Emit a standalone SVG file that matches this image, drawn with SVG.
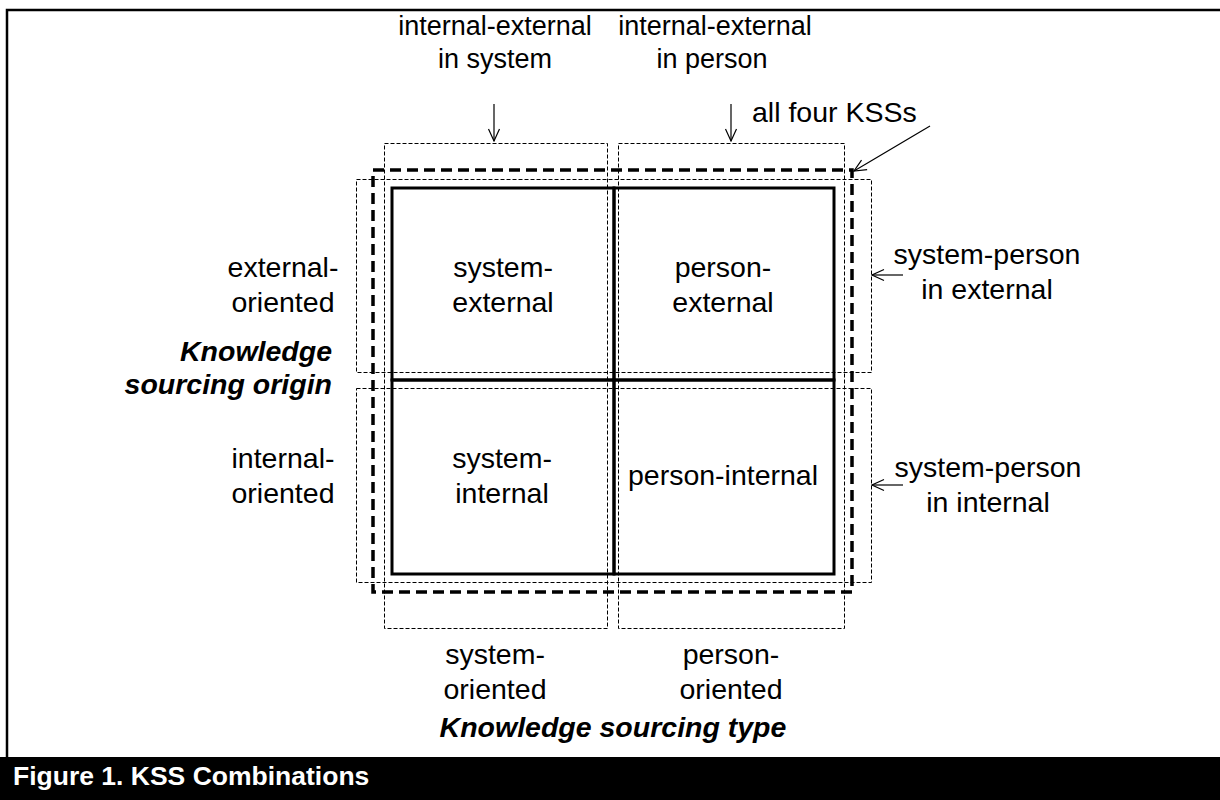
<svg xmlns="http://www.w3.org/2000/svg" width="1220" height="800" viewBox="0 0 1220 800">
  <style>
    text { font-family: "Liberation Sans", Arial, sans-serif; font-size: 28.5px; fill: #000; }
    .c { text-anchor: middle; }
    .top { font-size: 27px; }
    .axis { font-weight: bold; font-style: italic; }
    .cap { font-weight: bold; font-size: 26.5px; fill: #fff; }
    .cell { fill: none; stroke: #000; stroke-width: 3; }
    .thin { fill: none; stroke: #000; stroke-width: 1; stroke-dasharray: 4 2; }
    .all { fill: none; stroke: #000; stroke-width: 3.5; stroke-dasharray: 11 6; }
    .conn line { stroke: #000; stroke-width: 1.2; marker-end: url(#open); }
  </style>
  <defs>
    <marker id="open" viewBox="0 0 14 14" refX="13" refY="7" markerWidth="14" markerHeight="14" markerUnits="userSpaceOnUse" orient="auto">
      <path d="M1,1.5 L13,7 L1,12.5" fill="none" stroke="#000" stroke-width="1.2"/>
    </marker>
  </defs>

  <!-- page frame and caption bar -->
  <rect x="0" y="0" width="1220" height="800" fill="#fff"/>
  <path d="M7,757 V10 H1220" fill="none" stroke="#000" stroke-width="2.5"/>
  <rect x="0" y="757" width="1220" height="43" fill="#000"/>
  <text class="cap" x="13" y="785">Figure 1. KSS Combinations</text>

  <!-- combination groupings -->
  <g id="col-system">
    <rect class="thin" x="384.5" y="143.5" width="223" height="485"/>
    <text class="c top" x="495" y="35">internal-external</text>
    <text class="c top" x="495" y="68">in system</text>
    <text class="c" x="495" y="664">system-</text>
    <text class="c" x="495" y="699">oriented</text>
  </g>
  <g id="col-person">
    <rect class="thin" x="618.5" y="143.5" width="226" height="485"/>
    <text class="c top" x="715" y="35">internal-external</text>
    <text class="c top" x="712" y="68">in person</text>
    <text class="c" x="731" y="664">person-</text>
    <text class="c" x="731" y="699">oriented</text>
  </g>
  <g id="row-external">
    <rect class="thin" x="356.5" y="179.5" width="515" height="193"/>
    <text class="c" x="283" y="277">external-</text>
    <text class="c" x="283" y="312">oriented</text>
    <text class="c" x="987" y="264">system-person</text>
    <text class="c" x="987" y="299">in external</text>
  </g>
  <g id="row-internal">
    <rect class="thin" x="356.5" y="388.5" width="515" height="194"/>
    <text class="c" x="283" y="468">internal-</text>
    <text class="c" x="283" y="503">oriented</text>
    <text class="c" x="988" y="477">system-person</text>
    <text class="c" x="988" y="512">in internal</text>
  </g>
  <g id="all-four">
    <rect class="all" x="373" y="170" width="479" height="422"/>
    <text x="752" y="122">all four KSSs</text>
  </g>

  <!-- the four knowledge sourcing strategies -->
  <g id="system-external">
    <rect class="cell" x="392" y="188" width="222" height="192"/>
    <text class="c" x="503" y="277">system-</text>
    <text class="c" x="503" y="312">external</text>
  </g>
  <g id="person-external">
    <rect class="cell" x="614" y="188" width="220" height="192"/>
    <text class="c" x="723" y="277">person-</text>
    <text class="c" x="723" y="312">external</text>
  </g>
  <g id="system-internal">
    <rect class="cell" x="392" y="380" width="222" height="194"/>
    <text class="c" x="502" y="468">system-</text>
    <text class="c" x="502" y="503">internal</text>
  </g>
  <g id="person-internal">
    <rect class="cell" x="614" y="380" width="220" height="194"/>
    <text class="c" x="723" y="485">person-internal</text>
  </g>

  <!-- axis titles -->
  <g id="axis-origin">
    <text class="axis" x="332" y="361" text-anchor="end">Knowledge</text>
    <text class="axis" x="332" y="394" text-anchor="end">sourcing origin</text>
  </g>
  <g id="axis-type">
    <text class="axis c" x="613" y="737">Knowledge sourcing type</text>
  </g>

  <!-- pointers from labels to groupings -->
  <g class="conn" id="connectors">
    <line x1="494" y1="104" x2="494" y2="141"/>
    <line x1="731" y1="104" x2="731" y2="141"/>
    <line x1="930" y1="126" x2="854" y2="171"/>
    <line x1="903" y1="275" x2="872" y2="275"/>
    <line x1="903" y1="485" x2="872" y2="485"/>
  </g>
</svg>
